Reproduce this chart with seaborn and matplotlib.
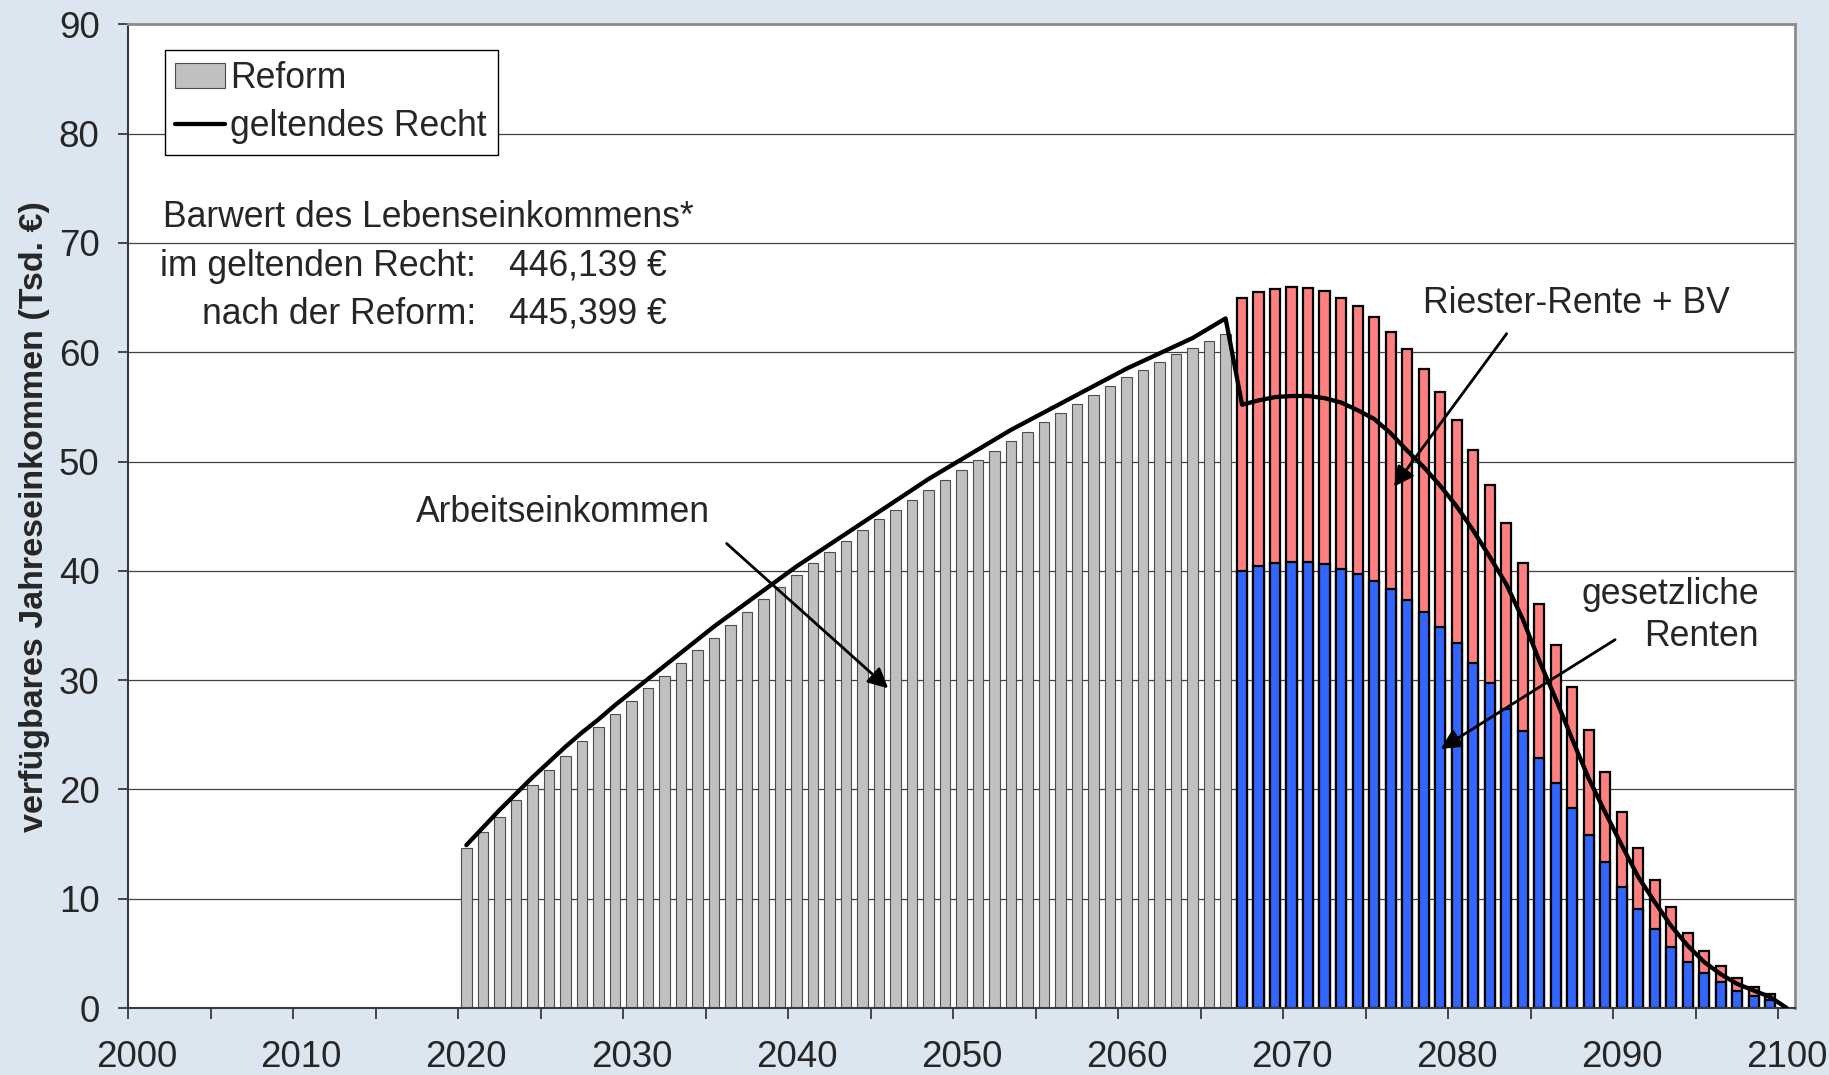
import numpy as np
import pandas as pd
import matplotlib
matplotlib.use("Agg")
import matplotlib.pyplot as plt
import seaborn as sns
from matplotlib.patches import Patch
from matplotlib.lines import Line2D

# Werte (Tsd. €)
jahre_arbeit = list(range(2020, 2067))
arbeitseinkommen = [14.6, 16.1, 17.5, 19.0, 20.4, 21.8, 23.1, 24.4, 25.7, 26.9,
                    28.1, 29.3, 30.4, 31.6, 32.8, 33.9, 35.0, 36.2, 37.4, 38.5,
                    39.6, 40.7, 41.7, 42.7, 43.7, 44.7, 45.6, 46.5, 47.4, 48.3,
                    49.2, 50.1, 51.0, 51.9, 52.7, 53.6, 54.4, 55.3, 56.1, 56.9,
                    57.7, 58.4, 59.1, 59.8, 60.4, 61.0, 61.7]

jahre_rente = list(range(2067, 2100))
# Oberkante gesamt (gesetzliche Rente + Riester-Rente + BV)
rente_gesamt = [65.0, 65.5, 65.8, 66.0, 65.9, 65.6, 65.0, 64.2, 63.2, 61.9,
                60.3, 58.5, 56.4, 53.8, 51.1, 47.9, 44.4, 40.7, 37.0, 33.2,
                29.4, 25.4, 21.6, 17.9, 14.6, 11.7, 9.2, 6.9, 5.2, 3.8,
                2.7, 1.9, 1.3]
rente_gesetzlich = [40.0, 40.4, 40.7, 40.8, 40.8, 40.6, 40.2, 39.7, 39.1, 38.3,
                    37.3, 36.2, 34.9, 33.4, 31.6, 29.7, 27.4, 25.3, 22.9, 20.6,
                    18.3, 15.8, 13.4, 11.1, 9.1, 7.2, 5.6, 4.2, 3.2, 2.4,
                    1.6, 1.1, 0.7]

jahre_recht = list(range(2020, 2101))
geltendes_recht = [14.9, 16.5, 18.1, 19.6, 21.1, 22.5, 23.9, 25.2, 26.4, 27.7,
                   28.9, 30.1, 31.3, 32.5, 33.7, 34.9, 36.0, 37.1, 38.2, 39.3,
                   40.4, 41.4, 42.4, 43.4, 44.4, 45.4, 46.4, 47.4, 48.4, 49.3,
                   50.2, 51.1, 52.0, 52.9, 53.7, 54.5, 55.3, 56.1, 56.9, 57.7,
                   58.5, 59.2, 59.9, 60.6, 61.3, 62.2, 63.1,
                   55.2, 55.6, 55.9, 56.0, 56.0, 55.8, 55.4, 54.7, 53.9, 52.6,
                   51.0, 49.5, 47.8, 45.9, 43.7, 41.3, 38.8, 35.6, 31.8, 28.3,
                   24.6, 21.0, 17.9, 14.9, 12.0, 9.7, 7.5, 5.7, 4.2, 3.1,
                   2.2, 1.6, 1.0, 0.0]

x_labels = [str(j) for j in range(2000, 2101, 10)]
barwert_recht = "446,139 €"
barwert_reform = "445,399 €"

df_arbeit = pd.DataFrame({"jahr": jahre_arbeit, "wert": arbeitseinkommen})
df_rente = pd.DataFrame({"jahr": jahre_rente, "gesamt": rente_gesamt,
                         "gesetzlich": rente_gesetzlich})

sns.set_theme(style="ticks")
plt.rcParams["font.family"] = ["Liberation Sans", "DejaVu Sans"]

fig, ax = plt.subplots(figsize=(18.29, 10.75), dpi=100)
fig.patch.set_facecolor("#DCE6F1")
fig.subplots_adjust(left=128 / 1829, right=1795 / 1829,
                    bottom=1 - 1008 / 1075, top=1 - 24.4 / 1075)

# Balken
sns.barplot(data=df_arbeit, x="jahr", y="wert", native_scale=True, width=0.64,
            color="#C0C0C0", saturation=1, edgecolor="#4d4d4d", linewidth=0.8,
            errorbar=None, ax=ax)
sns.barplot(data=df_rente, x="jahr", y="gesamt", native_scale=True, width=0.62,
            color="#FF8080", saturation=1, edgecolor="black", linewidth=1.6,
            errorbar=None, ax=ax)
sns.barplot(data=df_rente, x="jahr", y="gesetzlich", native_scale=True, width=0.62,
            color="#3366FF", saturation=1, edgecolor="black", linewidth=1.6,
            errorbar=None, ax=ax)

# Linie geltendes Recht
sns.lineplot(x=jahre_recht, y=geltendes_recht, color="black", linewidth=3.1,
             ax=ax, zorder=5)

ax.set_xlim(1999.5, 2100.5)
ax.set_ylim(0, 90)
ax.set_xticks(range(2000, 2101, 10), x_labels)
ax.set_xticks(np.arange(1999.5, 2100, 5), minor=True)
ax.set_yticks(range(0, 91, 10))
ax.tick_params(axis="x", which="major", length=0, pad=23, labelsize=26.5)
ax.tick_params(axis="x", which="minor", length=8, width=1.3, color="#3a3a3a",
               direction="out")
ax.tick_params(axis="y", length=7.5, width=1.3, pad=13, labelsize=26.5,
               color="#3a3a3a", direction="out")
ax.set_xlabel("")
ax.set_ylabel("verfügbares Jahreseinkommen (Tsd. €)", fontsize=24.5,
              fontweight="bold")
ax.yaxis.set_label_coords((50 - 128) / 1667, 0.5)

ax.yaxis.grid(True, color="#404040", linewidth=0.9)
ax.xaxis.grid(False)
ax.set_axisbelow(True)
ax.set_facecolor("white")
for s in ["left", "bottom"]:
    ax.spines[s].set_color("#3a3a3a")
    ax.spines[s].set_linewidth(1.5)
for s in ["top", "right"]:
    ax.spines[s].set_color("#8c8c8c")
    ax.spines[s].set_linewidth(2)

fs = 25.6

# Legende
handles = [Patch(facecolor="#C0C0C0", edgecolor="#4d4d4d", linewidth=0.8),
           Line2D([], [], color="black", linewidth=3.1)]
leg = ax.legend(handles, ["Reform", "geltendes Recht"], loc="upper left",
                bbox_to_anchor=((164.6 - 128) / 1667, 1 - (50 - 24.4) / 983.6),
                borderaxespad=0, fontsize=fs, frameon=True, fancybox=False,
                edgecolor="black", framealpha=1, handlelength=1.4,
                handletextpad=0.15, borderpad=0.3, labelspacing=0.38)
leg.get_frame().set_linewidth(1.0)

# Texte
ax.text(2001.6, 71.5, "Barwert des Lebenseinkommens*", fontsize=fs, va="baseline")
ax.text(2020.6, 67.0, "im geltenden Recht:", fontsize=fs, ha="right", va="baseline")
ax.text(2022.6, 67.0, barwert_recht, fontsize=fs, va="baseline")
ax.text(2020.6, 62.6, "nach der Reform:", fontsize=fs, ha="right", va="baseline")
ax.text(2022.6, 62.6, barwert_reform, fontsize=fs, va="baseline")

ax.text(2025.88, 44.5, "Arbeitseinkommen", fontsize=fs, ha="center", va="baseline")
ax.text(2087.24, 63.6, "Riester-Rente + BV", fontsize=fs, ha="center", va="baseline")
ax.text(2098.3, 37.0, "gesetzliche", fontsize=fs, ha="right", va="baseline")
ax.text(2098.3, 33.1, "Renten", fontsize=fs, ha="right", va="baseline")

pfeil = dict(arrowstyle="-|>", color="black", linewidth=2, mutation_scale=30,
             shrinkA=0, shrinkB=0)
ax.annotate("", xy=(2045.56, 29.25), xytext=(2035.77, 42.5), arrowprops=pfeil, zorder=6)
ax.annotate("", xy=(2076.2, 47.7), xytext=(2083.03, 61.7), arrowprops=pfeil, zorder=6)
ax.annotate("", xy=(2079.03, 23.7), xytext=(2089.6, 33.7), arrowprops=pfeil, zorder=6)

fig.savefig("out.png", dpi=100, facecolor=fig.get_facecolor())
